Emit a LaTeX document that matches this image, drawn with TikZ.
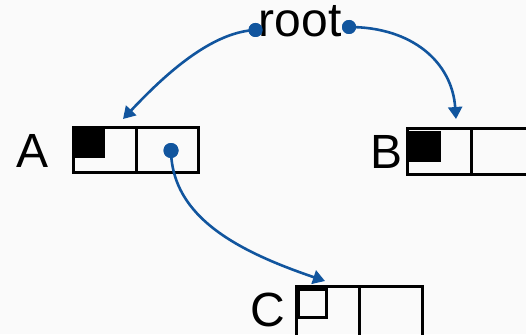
\documentclass[tikz,border=0pt]{standalone}
\usepackage{fontspec}
\setmainfont{Liberation Sans}
\usetikzlibrary{arrows.meta}
\definecolor{linkblue}{RGB}{17,85,158}
\begin{document}
\begin{tikzpicture}[x=1pt,y=-1pt,
  cell/.style={draw=black,line width=3pt,minimum width=#1,minimum height=45pt,inner sep=0pt,rectangle},
  cell/.default=63pt,
  lbl/.style={font=\fontsize{48}{50}\selectfont,inner sep=0pt,anchor=base},
  dot/.style={circle,fill=linkblue,inner sep=0pt,minimum size=14pt},
  link/.style={draw=linkblue,line width=2.6pt,-{Triangle[length=12pt,width=14pt]}}]
\useasboundingbox[fill=black!2] (0,0) rectangle (526,334);
% A
\node[cell=62.5pt] (A1) at (104.75,150) {};
\node[cell=62.5pt] (A2) at (167.25,150) {};
\fill (74,128) rectangle (105,158);
\node[lbl] (Alab) at (33,167) {A};
% B
\node[cell=64pt,minimum height=46pt] (B1) at (439.5,151.5) {};
\node[cell=64pt,minimum height=46pt] (B2) at (503.5,151.5) {};
\fill (409,131) rectangle (441,162);
\node[lbl] (Blab) at (386,168) {B};
% C
\node[cell=63pt,minimum height=52pt] (C1) at (328,312.5) {};
\node[cell=63pt,minimum height=52pt] (C2) at (391,312.5) {};
\draw[line width=3pt] (298.5,289.5) rectangle (326.5,317.5);
\node[lbl] (Clab) at (268,326) {C};
% root
\node[lbl] (root) at (300,37) {root};
% dots
\node[dot] (rl) at (255.5,30) {};
\node[dot] (rr) at (349,27) {};
\node[dot,minimum size=15pt] (ad) at (171,150.5) {};
% arrow targets
\coordinate (tA) at (123,119);
\coordinate (tB) at (456,119);
\coordinate (tC) at (325,281);
\draw[link] (rl.center) .. controls (208,32) and (158,82) .. (tA);
\draw[link] (rr.center) .. controls (412,27) and (452,62) .. (tB);
\draw[link] (ad.center) .. controls (172,218) and (240,252) .. (tC);
\node[dot] at (rl) {};
\node[dot] at (rr) {};
\node[dot,minimum size=15pt] at (ad) {};
\end{tikzpicture}
\end{document}
